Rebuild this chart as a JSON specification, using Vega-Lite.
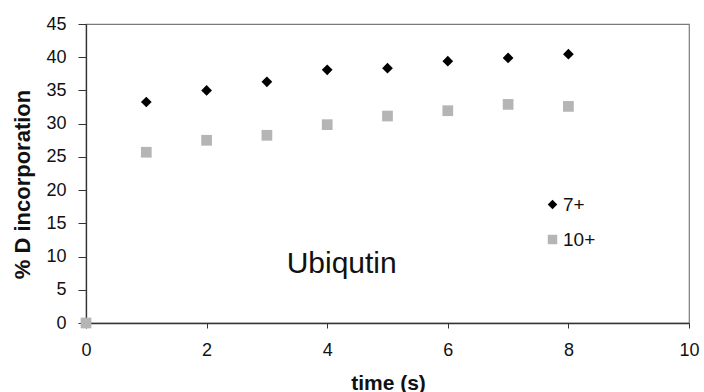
{
  "$schema": "https://vega.github.io/schema/vega-lite/v6.json",
  "width": 603,
  "height": 299,
  "autosize": {"type": "none"},
  "padding": {"left": 86, "top": 24, "right": 15, "bottom": 69},
  "background": "white",
  "config": {
    "view": {"stroke": "#7a7a7a", "strokeWidth": 1.2},
    "font": "Liberation Sans",
    "axis": {"grid": false, "domainColor": "#333333", "tickColor": "#333333", "labelColor": "#111111", "titleColor": "#111111", "labelFont": "Liberation Sans", "titleFont": "Liberation Sans", "domainWidth": 1.3, "labelOverlap": false, "format": "d", "labelFontSize": 18},
    "legend": {"labelFontSize": 19, "labelFont": "Liberation Sans", "labelColor": "#111111", "symbolSize": 90, "labelOffset": 1, "rowPadding": 15, "padding": 0, "symbolStrokeWidth": 0, "labelLimit": 200}
  },
  "data": {
    "values": [
      {"time": 0, "pct": 0, "series": "7+"},
      {"time": 1, "pct": 33.26, "series": "7+"},
      {"time": 2, "pct": 35.0, "series": "7+"},
      {"time": 3, "pct": 36.3, "series": "7+"},
      {"time": 4, "pct": 38.1, "series": "7+"},
      {"time": 5, "pct": 38.35, "series": "7+"},
      {"time": 6, "pct": 39.4, "series": "7+"},
      {"time": 7, "pct": 39.9, "series": "7+"},
      {"time": 8, "pct": 40.45, "series": "7+"},
      {"time": 0, "pct": 0, "series": "10+"},
      {"time": 1, "pct": 25.7, "series": "10+"},
      {"time": 2, "pct": 27.5, "series": "10+"},
      {"time": 3, "pct": 28.25, "series": "10+"},
      {"time": 4, "pct": 29.85, "series": "10+"},
      {"time": 5, "pct": 31.15, "series": "10+"},
      {"time": 6, "pct": 31.95, "series": "10+"},
      {"time": 7, "pct": 32.9, "series": "10+"},
      {"time": 8, "pct": 32.6, "series": "10+"}
    ]
  },
  "layer": [
    {
      "mark": {"type": "point", "filled": true, "opacity": 1, "size": 115},
      "encoding": {
        "x": {
          "field": "time", "type": "quantitative",
          "scale": {"domain": [0, 10], "nice": false, "zero": true},
          "axis": {"values": [0, 2, 4, 6, 8, 10], "format": "d", "title": "time (s)", "titleFontSize": 21, "titleFontWeight": "bold", "titleX": 302, "titleY": 66, "titleBaseline": "alphabetic", "labelFontSize": 18, "tickSize": 5, "labelPadding": 13, "labelFlush": false, "labelOverlap": false}
        },
        "y": {
          "field": "pct", "type": "quantitative",
          "scale": {"domain": [0, 45], "nice": false},
          "axis": {"values": [0, 5, 10, 15, 20, 25, 30, 35, 40, 45], "format": "d", "title": "% D incorporation", "titleFontSize": 22, "titleFontWeight": "bold", "titleX": -64, "titleY": 160, "titleAlign": "center", "titleBaseline": "middle", "titleAngle": -90, "labelFontSize": 18, "tickSize": 8, "labelPadding": 12, "labelOverlap": false}
        },
        "shape": {
          "field": "series", "type": "nominal",
          "scale": {"domain": ["7+", "10+"], "range": ["diamond", "square"]},
          "legend": {"title": null, "orient": "none", "legendX": 457, "legendY": 171}
        },
        "color": {
          "field": "series", "type": "nominal",
          "scale": {"domain": ["7+", "10+"], "range": ["#000000", "#b5b5b5"]},
          "legend": {"title": null, "orient": "none", "legendX": 457, "legendY": 171}
        }
      }
    },
    {
      "data": {"values": [{"label": "Ubiqutin"}]},
      "mark": {"type": "text", "fontSize": 30, "font": "Liberation Sans", "align": "center", "baseline": "alphabetic", "color": "#111111"},
      "encoding": {
        "text": {"field": "label"},
        "x": {"datum": 4.24, "axis": {"values": [0, 2, 4, 6, 8, 10], "format": "d", "title": "time (s)", "titleFontSize": 21, "titleFontWeight": "bold", "titleX": 302, "titleY": 66, "titleBaseline": "alphabetic", "labelFontSize": 18, "tickSize": 5, "labelPadding": 13, "labelFlush": false, "labelOverlap": false}},
        "y": {"datum": 7.48, "axis": {"values": [0, 5, 10, 15, 20, 25, 30, 35, 40, 45], "format": "d", "title": "% D incorporation", "titleFontSize": 22, "titleFontWeight": "bold", "titleX": -64, "titleY": 160, "titleAlign": "center", "titleBaseline": "middle", "titleAngle": -90, "labelFontSize": 18, "tickSize": 8, "labelPadding": 12, "labelOverlap": false}}
      }
    }
  ]
}
